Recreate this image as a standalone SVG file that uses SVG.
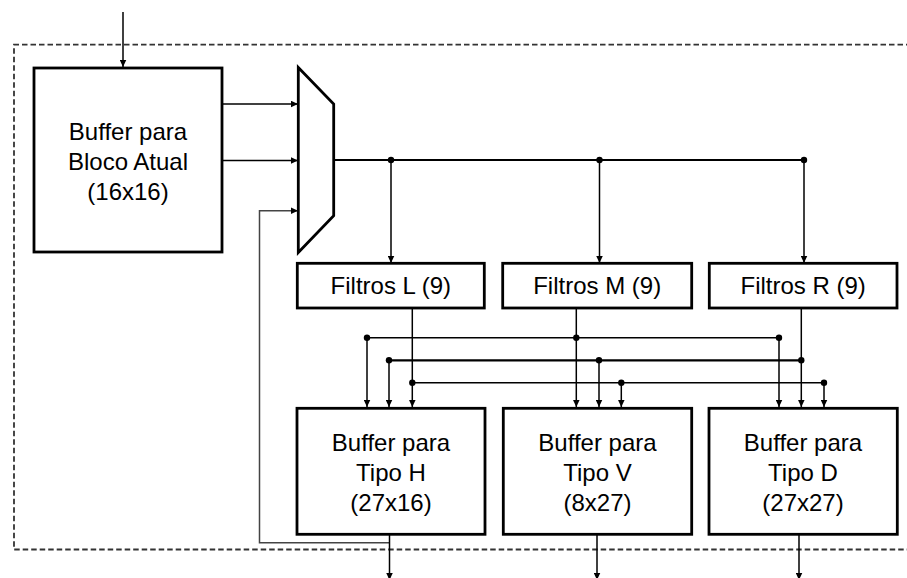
<svg xmlns="http://www.w3.org/2000/svg" width="907" height="578" viewBox="0 0 907 578">
  <defs>
    <marker id="arrow" markerUnits="userSpaceOnUse" markerWidth="8" markerHeight="7" refX="7.5" refY="3.5" orient="auto">
      <path d="M0,0 L7.5,3.5 L0,7 Z" fill="#000"/>
    </marker>
  </defs>
  <style>
    .box { fill: #fff; stroke: #000; stroke-width: 2.8; }
    .lbl { font-family: "Liberation Sans", Arial, sans-serif; font-size: 24px; fill: #000; text-anchor: middle; }
    .wire { fill: none; stroke: #000; stroke-width: 1.5; }
    .bus { fill: none; stroke: #000; stroke-width: 2.2; }
    .arr { marker-end: url(#arrow); }
    .fb { fill: none; stroke: #444; stroke-width: 1.5; }
    .dot { fill: #000; }
    .frame { fill: none; stroke: #333; stroke-width: 1.8; stroke-dasharray: 5.5 3; }
  </style>

  <!-- system boundary (open on the right) -->
  <path class="frame" d="M920,44.7 H14 V549.5 H920"/>

  <!-- connectors -->
  <g id="connectors">
    <!-- external input -->
    <line class="wire arr" x1="123" y1="12" x2="123" y2="67"/>
    <!-- current block buffer to mux -->
    <line class="wire arr" x1="222" y1="104" x2="298" y2="104"/>
    <line class="wire arr" x1="222" y1="160.5" x2="298" y2="160.5"/>
    <!-- feedback from H buffer to mux -->
    <polyline class="fb arr" points="389.5,542.7 259.5,542.7 259.5,210.7 298,210.7"/>

    <!-- mux output bus -->
    <line class="bus" x1="334" y1="160" x2="804" y2="160"/>
    <line class="wire arr" x1="391" y1="160" x2="391" y2="263"/>
    <line class="wire arr" x1="599.5" y1="160" x2="599.5" y2="263"/>
    <line class="wire arr" x1="804" y1="160" x2="804" y2="263"/>
    <circle class="dot" cx="391" cy="160" r="3.2"/>
    <circle class="dot" cx="599.5" cy="160" r="3.2"/>
    <circle class="dot" cx="804" cy="160" r="3.2"/>

    <!-- filter outputs -->
    <line class="wire arr" x1="412.3" y1="308" x2="412.3" y2="407"/>
    <line class="wire arr" x1="576.3" y1="308" x2="576.3" y2="407"/>
    <line class="wire arr" x1="801.3" y1="308" x2="801.3" y2="407"/>

    <!-- M filter distribution -->
    <line class="wire" x1="367" y1="337.7" x2="779" y2="337.7"/>
    <line class="wire arr" x1="367" y1="337.7" x2="367" y2="407"/>
    <line class="wire arr" x1="779" y1="337.7" x2="779" y2="407"/>
    <circle class="dot" cx="367" cy="337.7" r="3.2"/>
    <circle class="dot" cx="576.3" cy="337.7" r="3.2"/>
    <circle class="dot" cx="779" cy="337.7" r="3.2"/>

    <!-- R filter distribution -->
    <line class="bus" x1="389" y1="360.3" x2="801.3" y2="360.3"/>
    <line class="wire arr" x1="389" y1="360.3" x2="389" y2="407"/>
    <line class="wire arr" x1="599" y1="360.3" x2="599" y2="407"/>
    <circle class="dot" cx="389" cy="360.3" r="3.2"/>
    <circle class="dot" cx="599" cy="360.3" r="3.2"/>
    <circle class="dot" cx="801.3" cy="360.3" r="3.2"/>

    <!-- L filter distribution -->
    <line class="wire" x1="412.3" y1="382.7" x2="824" y2="382.7"/>
    <line class="wire arr" x1="621.3" y1="382.7" x2="621.3" y2="407"/>
    <line class="wire arr" x1="824" y1="382.7" x2="824" y2="407"/>
    <circle class="dot" cx="412.3" cy="382.7" r="3.2"/>
    <circle class="dot" cx="621.3" cy="382.7" r="3.2"/>
    <circle class="dot" cx="824" cy="382.7" r="3.2"/>

    <!-- buffer outputs -->
    <line class="wire arr" x1="389.5" y1="534" x2="389.5" y2="580"/>
    <line class="wire arr" x1="597" y1="534" x2="597" y2="580"/>
    <line class="wire arr" x1="799" y1="534" x2="799" y2="580"/>
  </g>

  <!-- nodes -->
  <g id="buf-atual">
    <rect class="box" x="34" y="68" width="188" height="184"/>
    <text class="lbl" x="128" y="140">Buffer para</text>
    <text class="lbl" x="128" y="170">Bloco Atual</text>
    <text class="lbl" x="128" y="200">(16x16)</text>
  </g>

  <g id="mux">
    <polygon class="box" points="298.3,67.5 333.7,104 333.7,215.7 298.3,252.5"/>
  </g>

  <g id="filtros-l">
    <rect class="box" x="297.3" y="263.3" width="187" height="44.7"/>
    <text class="lbl" x="390.8" y="293.5">Filtros L (9)</text>
  </g>
  <g id="filtros-m">
    <rect class="box" x="502.7" y="263.3" width="189" height="44.7"/>
    <text class="lbl" x="597.2" y="293.5">Filtros M (9)</text>
  </g>
  <g id="filtros-r">
    <rect class="box" x="709.3" y="263.3" width="187.7" height="44.7"/>
    <text class="lbl" x="803.2" y="293.5">Filtros R (9)</text>
  </g>

  <g id="buf-h">
    <rect class="box" x="297" y="408.3" width="188" height="126"/>
    <text class="lbl" x="391" y="451">Buffer para</text>
    <text class="lbl" x="391" y="481">Tipo H</text>
    <text class="lbl" x="391" y="511">(27x16)</text>
  </g>
  <g id="buf-v">
    <rect class="box" x="503.3" y="408.3" width="188.4" height="126"/>
    <text class="lbl" x="597.5" y="451">Buffer para</text>
    <text class="lbl" x="597.5" y="481">Tipo V</text>
    <text class="lbl" x="597.5" y="511">(8x27)</text>
  </g>
  <g id="buf-d">
    <rect class="box" x="709" y="408.3" width="188.3" height="126"/>
    <text class="lbl" x="803" y="451">Buffer para</text>
    <text class="lbl" x="803" y="481">Tipo D</text>
    <text class="lbl" x="803" y="511">(27x27)</text>
  </g>
</svg>
